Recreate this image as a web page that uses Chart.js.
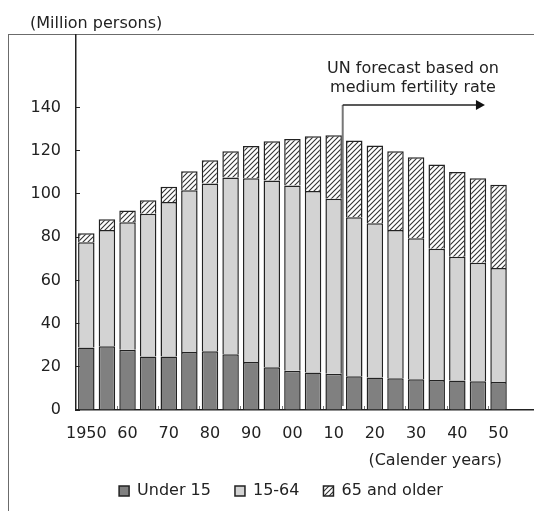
<!DOCTYPE html>
<html>
<head>
<meta charset="utf-8">
<script src="https://cdn.jsdelivr.net/npm/chart.js@4.4.7/dist/chart.umd.min.js"></script>
<style>
  html, body { margin: 0; padding: 0; background: #fff; }
  #wrap { position: relative; width: 534px; height: 513px; overflow: hidden; }
  #frame {
    position: absolute; left: 8px; top: 34px; right: -4px; height: 476px;
    border-left: 1.5px solid #6b6b6b; border-top: 1.5px solid #6b6b6b;
  }
  #chart { position: absolute; left: 0; top: 0; }
</style>
</head>
<body>
<div id="wrap">
  <div id="frame"></div>
  <canvas id="chart" width="534" height="513"></canvas>
</div>
<script>
// ===== データ =====
const years = [1950, 1955, 1960, 1965, 1970, 1975, 1980, 1985, 1990, 1995, 2000,
               2005, 2010, 2015, 2020, 2025, 2030, 2035, 2040, 2045, 2050];
const under15 = [28.9, 29.5, 27.9, 24.8, 24.8, 26.9, 27.2, 25.8, 22.2, 19.8, 18.2,
                 17.4, 16.8, 15.6, 15.1, 14.7, 14.2, 13.9, 13.6, 13.3, 13.0];
const age15to64 = [48.7, 53.8, 59.0, 66.1, 71.5, 74.8, 77.7, 81.8, 85.1, 86.5, 85.7,
                   84.0, 81.0, 73.6, 71.3, 68.6, 65.3, 60.8, 57.4, 54.9, 52.7];
const age65plus = [4.2, 5.0, 5.5, 6.2, 7.1, 8.8, 10.7, 12.2, 14.9, 18.1, 21.6,
                   25.3, 29.4, 35.6, 36.1, 36.5, 37.5, 38.9, 39.2, 39.1, 38.6];
const seriesNames = ['Under 15', '15-64', '65 and older'];
const xTickYears = [1950, 1960, 1970, 1980, 1990, 2000, 2010, 2020, 2030, 2040, 2050];
const xTickLabels = ['1950', '60', '70', '80', '90', '00', '10', '20', '30', '40', '50'];
const xMarkYears = [1957.5, 1967.5, 1977.5, 1987.5, 1997.5, 2007.5, 2017.5, 2027.5, 2037.5, 2047.5];
const yTicks = [0, 20, 40, 60, 80, 100, 120, 140];

// 予測開始の矢印（軸の値で指定）
const forecastYear = 2012.2;
const arrowEndYear = 2046.7;
const arrowLevel = 141.2;

const FONT = '"DejaVu Sans", "Liberation Sans", Arial, sans-serif';
const TEXT = '#222';

// ===== 斜線パターン =====
function makeHatch() {
  const s = 5;
  const c = document.createElement('canvas');
  c.width = s; c.height = s;
  const g = c.getContext('2d');
  g.fillStyle = '#fff';
  g.fillRect(0, 0, s, s);
  g.strokeStyle = '#333';
  g.lineWidth = 1.1;
  g.beginPath();
  g.moveTo(0, s); g.lineTo(s, 0);
  g.moveTo(-1, 1); g.lineTo(1, -1);
  g.moveTo(s - 1, s + 1); g.lineTo(s + 1, s - 1);
  g.stroke();
  return g.createPattern(c, 'repeat');
}

// ===== 注記・軸タイトル =====
const labelPlugin = {
  id: 'labels',
  afterDatasetsDraw(chart) {
    const { ctx, scales: { x, y } } = chart;
    ctx.save();
    ctx.font = '16px ' + FONT;
    ctx.fillStyle = TEXT;
    ctx.textBaseline = 'middle';

    ctx.textAlign = 'left';
    ctx.fillText('(Million persons)', 30, 24);

    ctx.textAlign = 'right';
    ctx.fillText('(Calender years)', 502, 461);

    // 矢印
    const lx = x.getPixelForValue(forecastYear);
    const rx = x.getPixelForValue(arrowEndYear);
    const ly = y.getPixelForValue(arrowLevel);
    ctx.strokeStyle = '#777';
    ctx.lineWidth = 2;
    ctx.beginPath();
    ctx.moveTo(lx, y.getPixelForValue(0) - 4);
    ctx.lineTo(lx, ly);
    ctx.stroke();
    ctx.strokeStyle = '#222';
    ctx.lineWidth = 1.5;
    ctx.beginPath();
    ctx.moveTo(lx, ly);
    ctx.lineTo(rx - 8, ly);
    ctx.stroke();
    ctx.fillStyle = '#111';
    ctx.beginPath();
    ctx.moveTo(rx, ly);
    ctx.lineTo(rx - 9, ly - 5);
    ctx.lineTo(rx - 9, ly + 5);
    ctx.closePath();
    ctx.fill();

    ctx.fillStyle = TEXT;
    ctx.textAlign = 'center';
    ctx.fillText('UN forecast based on', 413, ly - 36);
    ctx.fillText('medium fertility rate', 413, ly - 17);
    ctx.restore();
  }
};

// ===== チャート =====
function createChart() {
  const ctx = document.getElementById('chart').getContext('2d');
  const hatch = makeHatch();
  const common = {
    borderColor: '#222',
    borderWidth: 1.5,
    barPercentage: 0.8,
    categoryPercentage: 1.0
  };
  new Chart(ctx, {
    type: 'bar',
    data: {
      labels: years,
      datasets: [
        Object.assign({ label: seriesNames[0], data: under15, backgroundColor: '#808080' }, common),
        Object.assign({ label: seriesNames[1], data: age15to64, backgroundColor: '#d3d3d3' }, common),
        Object.assign({ label: seriesNames[2], data: age65plus, backgroundColor: hatch }, common)
      ]
    },
    options: {
      responsive: false,
      devicePixelRatio: 1,
      animation: false,
      layout: { padding: { top: 35, left: 28, right: 0, bottom: 4 } },
      plugins: {
        tooltip: { enabled: false },
        legend: {
          position: 'bottom',
          labels: {
            boxWidth: 10,
            boxHeight: 10,
            padding: 24,
            color: TEXT,
            font: { family: FONT, size: 16 }
          }
        }
      },
      scales: {
        x: {
          type: 'linear',
          stacked: true,
          offset: false,
          min: 1947.5,
          max: 2058.6,
          grid: { display: false, drawTicks: false, offset: false },
          border: { display: true, color: '#222', width: 1.5 },
          afterBuildTicks: (scale) => { scale.ticks = xTickYears.map(v => ({ value: v })); },
          afterFit: (scale) => { scale.height = 49; },
          ticks: {
            padding: 14,
            maxRotation: 0,
            autoSkip: false,
            color: TEXT,
            font: { family: FONT, size: 16 },
            callback: (v, i) => xTickLabels[i]
          }
        },
        // 内向きの小さな目盛り（棒の間）
        xMarks: {
          type: 'linear',
          position: 'bottom',
          weight: -1,
          offset: false,
          min: 1947.5,
          max: 2058.6,
          grid: { display: true, offset: false, drawOnChartArea: false, drawTicks: true, tickLength: -4, tickColor: '#777', tickWidth: 1 },
          border: { display: false },
          afterBuildTicks: (scale) => { scale.ticks = xMarkYears.map(v => ({ value: v })); },
          afterFit: (scale) => { scale.height = 0; },
          ticks: { display: false }
        },
        y: {
          stacked: true,
          min: 0,
          max: 173.6,
          grid: { display: true, drawOnChartArea: false, drawTicks: true, tickLength: -4, tickColor: '#222', tickWidth: 1 },
          border: { display: true, color: '#222', width: 1.5 },
          afterBuildTicks: (scale) => { scale.ticks = yTicks.map(v => ({ value: v })); },
          afterFit: (scale) => { scale.width = 48; },
          ticks: {
            padding: 19,
            color: TEXT,
            font: { family: FONT, size: 16 }
          }
        }
      }
    },
    plugins: [labelPlugin]
  });
}

createChart();
</script>
</body>
</html>
